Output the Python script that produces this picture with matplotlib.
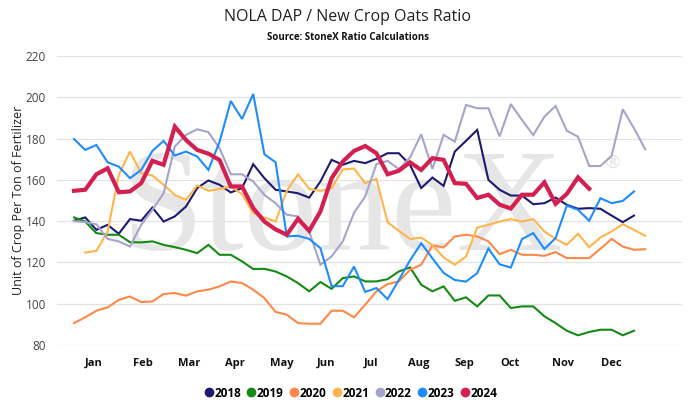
import matplotlib
matplotlib.use("Agg")
import matplotlib.pyplot as plt
from matplotlib.lines import Line2D
import numpy as np

plt.rcParams['font.family'] = ['Open Sans', 'DejaVu Sans']

# ---- data (weekly values, week index 0..51) ----
years = ["2018", "2019", "2020", "2021", "2022", "2023", "2024"]
colors = ["#1b1b72", "#138a13", "#ff8848", "#ffb54c", "#a5a5cc", "#1e8cff", "#d42050"]

y2018 = [140.2, 141.8, 135.8, 138.2, 133.9, 141, 140.2, 146.6, 139.8, 142.3, 147.1, 156, 159.7,
         157.6, 153.9, 156, 167.6, 160.8, 155.2, 154.4, 153.5, 151.4, 159.2, 169.7, 167.3, 169.2,
         168.1, 170.2, 172.9, 172.9, 167.3, 156, 161.1, 157.1, 173.7, 178.9, 184.2, 160, 155.2,
         152.4, 152.4, 148.2, 148.7, 151.4, 147.9, 146, 146.3, 146, 142.7, 139.5, 142.7]
y2019 = [141.8, 139.8, 134.2, 133.4, 133.4, 129.8, 129.7, 130.2, 128.5, 127.4, 126.1, 124.5, 128.5,
         123.7, 123.7, 120.5, 116.8, 116.9, 115.6, 113.2, 110, 106, 110.5, 107.2, 112.4, 113.2,
         110.8, 110.8, 111.9, 115.6, 117.6, 109.2, 106, 108.4, 101.4, 103.1, 98.7, 104, 104,
         97.9, 98.7, 98.7, 93.9, 90.6, 86.9, 84.7, 86.3, 87.4, 87.4, 84.7, 86.9]
y2020 = [90.6, 93.4, 96.6, 98.2, 101.9, 103.5, 100.8, 101.1, 104.7, 105.2, 103.9, 106, 106.8,
         108.4, 110.8, 110, 106.8, 102.7, 96, 94.7, 90.6, 90.3, 90.3, 96.6, 96.6, 93.4,
         99.5, 106, 109.5, 110.8, 116.4, 118.9, 128.2, 127.3, 132.6, 133.4, 132.6, 130.2, 124,
         126.1, 123.7, 123.7, 123.2, 125, 122.1, 122.1, 122.1, 126.6, 131.4, 127.7, 126.1, 126.4]
y2021 = [None, 124.8, 125.6, 135, 162.4, 173.7, 163.2, 162.1, 157.6, 152.7, 150.3, 157.3, 154.7,
         155.6, 156.8, 153.1, 143.9, 141.8, 139.8, 154.7, 162.7, 155.6, 154.7, 156, 165, 165.5,
         158.4, 160.5, 139.5, 135.3, 131.4, 132, 128.5, 122.4, 118.9, 122.9, 136.9, 138.2, 139.8,
         141, 139.8, 141, 135, 131.4, 128.5, 133.9, 127.4, 132.1, 135, 138.5, 135.8, 132.9]
y2022 = [140, 139.5, 138.5, 131.4, 130.2, 127.7, 138.2, 145.5, 153.5, 176.1, 181.8, 184.5, 183.1,
         175.3, 162.7, 162.7, 159.2, 152.7, 148.7, 143.1, 142.3, 135, 118.9, 122.9, 130.2, 144,
         151.9, 167.6, 169.2, 165.2, 170.8, 182.1, 165.3, 181.8, 178.5, 196.3, 194.7, 194.7, 181,
         196.7, 189, 181.7, 190.6, 195.8, 183.8, 180.9, 166.7, 166.7, 171.6, 194.2, 185, 174.8]
y2023 = [179.8, 174.5, 176.9, 168.5, 166.4, 160.8, 164.8, 174, 178.9, 171.8, 173.7, 171.3, 164.8,
         178.5, 198.2, 189.5, 201.6, 172.4, 168.5, 132.6, 132.9, 131.4, 126.9, 108.5, 108.5, 118,
         105.7, 107.6, 102.2, 111.5, 121, 129.3, 122, 114.9, 111.5, 110.7, 114.8, 126.7, 119.1,
         117.5, 131.3, 134.2, 126.5, 131.8, 147.5, 145.5, 140.2, 151.1, 148.7, 149.8, 154.4]
y2024 = [154.7, 155.2, 162.7, 165.6, 154, 154.4, 158.4, 169.2, 167.3, 185.8, 179.3, 174.5, 172.7,
         169.6, 156.8, 156.8, 146.3, 139.8, 136, 133.4, 141.1, 135.3, 144.7, 160.8, 168.9, 174,
         176.4, 172.9, 162.7, 164.4, 168.5, 164.8, 170.5, 169.7, 158.4, 158.1, 151.2, 152.8, 148,
         146.1, 152.8, 152.8, 158.8, 148.4, 153.2, 161.2, 155.7]
series = [y2018, y2019, y2020, y2021, y2022, y2023, y2024]

month_labels = ["Jan", "Feb", "Mar", "Apr", "May", "Jun", "Jul", "Aug", "Sep", "Oct", "Nov", "Dec"]
month_pos = [1.79, 6.14, 10.29, 14.36, 18.57, 22.5, 26.5, 30.82, 34.82, 38.93, 43.68, 47.96]
y_ticks = [80, 100, 120, 140, 160, 180, 200, 220]

W, H = 700, 415
fig = plt.figure(figsize=(W / 100, H / 100), dpi=100)
ax = fig.add_axes([57 / W, (H - 345) / H, (682 - 57) / W, (345 - 56) / H])

# watermark (behind the lines)
ax.text(121 / W, (H - 250) / H, "StoneX", family="Liberation Serif", fontsize=106,
        color="#e6e6e6", ha="left", va="baseline", zorder=1, transform=fig.transFigure)
ax.text(612 / W, (H - 163) / H, "\u00ae", family="DejaVu Sans", fontsize=13,
        color="#e2e2e2", ha="center", va="center", zorder=1, transform=fig.transFigure)

for yr, vals, c in zip(years, series, colors):
    arr = np.array([np.nan if v is None else v for v in vals], dtype=float)
    x = np.arange(len(arr))
    lw = 3.0 if yr == "2024" else 1.5
    ax.plot(x, arr, color=c, lw=lw, solid_joinstyle="miter", zorder=4 if yr == "2024" else 3)

ax.set_xlim((57 - 74) / 11.2, (682 - 74) / 11.2)
ax.set_ylim(80, 220)
ax.set_yticks(y_ticks)
ax.set_xticks(month_pos)
ax.set_xticklabels(month_labels, fontsize=8, fontweight="bold", color="#111111")
ax.tick_params(axis="x", length=0, pad=9)
ax.tick_params(axis="y", length=0, pad=8, labelsize=8.5, labelcolor="#444444")
ax.set_axisbelow(True)
ax.grid(axis="y", color="#e3e3e3", lw=0.9, zorder=0)
ax.grid(axis="x", visible=False)
for s in ax.spines.values():
    s.set_visible(False)

ax.set_ylabel("Unit of Crop Per Ton of Fertilizer", fontsize=9, color="#222222")
ax.yaxis.set_label_coords((25 - 57) / (682 - 57), 0.5)

fig.text(348 / W, (H - 17) / H, "NOLA DAP / New Crop Oats Ratio", fontsize=11.5,
         color="#222222", ha="center", va="center")
fig.text(348 / W, (H - 37) / H, "Source: StoneX Ratio Calculations", fontsize=7,
         fontweight="bold", color="#111111", ha="center", va="center")

handles = [Line2D([0], [0], marker="o", color="none", markerfacecolor=c, markeredgecolor=c,
                  markersize=6) for c in colors]
fig.legend(handles, years, loc="center", bbox_to_anchor=(351 / W, (H - 393) / H), ncol=7,
           frameon=False, handlelength=0.7, handletextpad=0.1, columnspacing=0.55,
           prop={"weight": "bold", "size": 8.5})

fig.savefig("out.png", dpi=100)
